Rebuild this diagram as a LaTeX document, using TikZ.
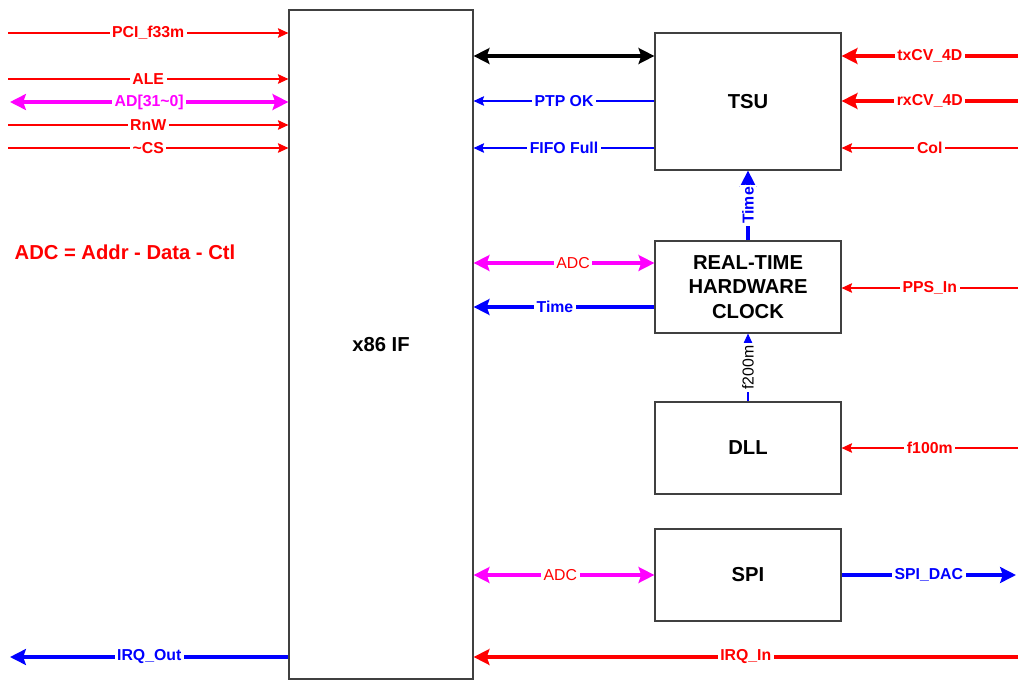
\documentclass[tikz,border=0pt]{standalone}
\usepackage{fontspec}
\setmainfont{Liberation Sans}
\usetikzlibrary{arrows.meta}
\definecolor{busmag}{RGB}{255,0,255}

\begin{document}
\begin{tikzpicture}[
    x=0.02cm, y=-0.02cm,
    block/.style={draw=black!75, line width=0.7pt, minimum width=3.72cm, minimum height=1.84cm, align=center, font=\fontsize{11.5}{14}\selectfont\bfseries},
    lbl/.style={fill=white, inner sep=1.5pt, font=\fontsize{9}{10}\selectfont\bfseries},
    plainlbl/.style={fill=white, inner sep=1.5pt, font=\fontsize{9}{10}\selectfont},
    sig/.style={line width=0.6pt, -{Stealth[length=6pt,width=5.5pt,inset=1pt]}},
    bus/.style={line width=1.9pt, -{Stealth[length=9pt,width=9pt,inset=1.5pt]}},
    busboth/.style={line width=1.9pt, {Stealth[length=9pt,width=9pt,inset=1.5pt]}-{Stealth[length=9pt,width=9pt,inset=1.5pt]}}
]
    \useasboundingbox (0,0) rectangle (1018,680);

    % blocks
    \node[block, minimum width=3.68cm, minimum height=13.38cm] (x86) at (381,344.5) {x86 IF};
    \node[block, minimum height=2.74cm] (tsu) at (748,101.5) {TSU};
    \node[block] (rtc) at (748,287) {REAL-TIME\\HARDWARE\\CLOCK};
    \node[block] (dll) at (748,448) {DLL};
    \node[block] (spi) at (748,575) {SPI};

    \node[red, font=\fontsize{11.5}{14}\selectfont\bfseries] (note) at (125,252) {ADC = Addr - Data - Ctl};

    % free ends
    \coordinate (pci) at (8,33);
    \coordinate (ale) at (8,79);
    \coordinate (ad) at (10,102);
    \coordinate (rnw) at (8,125);
    \coordinate (cs) at (8,148);
    \coordinate (irqo) at (10,657);
    \coordinate (txcv) at (1018,56);
    \coordinate (rxcv) at (1018,101);
    \coordinate (col) at (1018,148);
    \coordinate (pps) at (1018,288);
    \coordinate (clk) at (1018,448);
    \coordinate (dac) at (1016,575);
    \coordinate (irqi) at (1018,657);

    % host side
    \draw[sig, red] (pci) -- node[lbl]{PCI\_f33m} (pci -| x86.west);
    \draw[sig, red] (ale) -- node[lbl]{ALE} (ale -| x86.west);
    \draw[busboth, busmag] (ad) -- node[lbl]{AD[31\textasciitilde0]} (ad -| x86.west);
    \draw[sig, red] (rnw) -- node[lbl]{RnW} (rnw -| x86.west);
    \draw[sig, red] (cs) -- node[lbl]{\textasciitilde CS} (cs -| x86.west);
    \draw[bus, blue] (x86.west |- irqo) -- node[lbl]{IRQ\_Out} (irqo);

    % TSU
    \draw[busboth, black] (x86.east |- txcv) -- (tsu.west |- txcv);
    \draw[sig, blue] (tsu.west |- rxcv) -- node[lbl]{PTP OK} (x86.east |- rxcv);
    \draw[sig, blue] (tsu.west |- col) -- node[lbl]{FIFO Full} (x86.east |- col);
    \draw[bus, red] (txcv) -- node[lbl]{txCV\_4D} (txcv -| tsu.east);
    \draw[bus, red] (rxcv) -- node[lbl]{rxCV\_4D} (rxcv -| tsu.east);
    \draw[sig, red] (col) -- node[lbl]{Col} (col -| tsu.east);

    % clock
    \draw[bus, blue] (rtc.north) -- node[lbl, rotate=90]{Time} (tsu.south);
    \draw[busboth, busmag] ([yshift=0.48cm]rtc.west) coordinate (adc1) -- node[plainlbl, text=red, pos=0.45]{ADC} (adc1 -| x86.east);
    \draw[bus, blue] ([yshift=-0.4cm]rtc.west) coordinate (tm) -- node[lbl, pos=0.55]{Time} (tm -| x86.east);
    \draw[sig, red] (pps) -- node[lbl]{PPS\_In} (pps -| rtc.east);
    \draw[sig, blue] (dll.north) -- node[plainlbl, rotate=90, text=black]{f200m} (rtc.south);
    \draw[sig, red] (clk) -- node[lbl]{f100m} (dll.east);

    % SPI
    \draw[busboth, busmag] (spi.west) -- node[plainlbl, text=red, pos=0.52]{ADC} (spi.west -| x86.east);
    \draw[bus, blue] (spi.east) -- node[lbl]{SPI\_DAC} (dac);
    \draw[bus, red] (irqi) -- node[lbl]{IRQ\_In} (irqi -| x86.east);
\end{tikzpicture}
\end{document}
